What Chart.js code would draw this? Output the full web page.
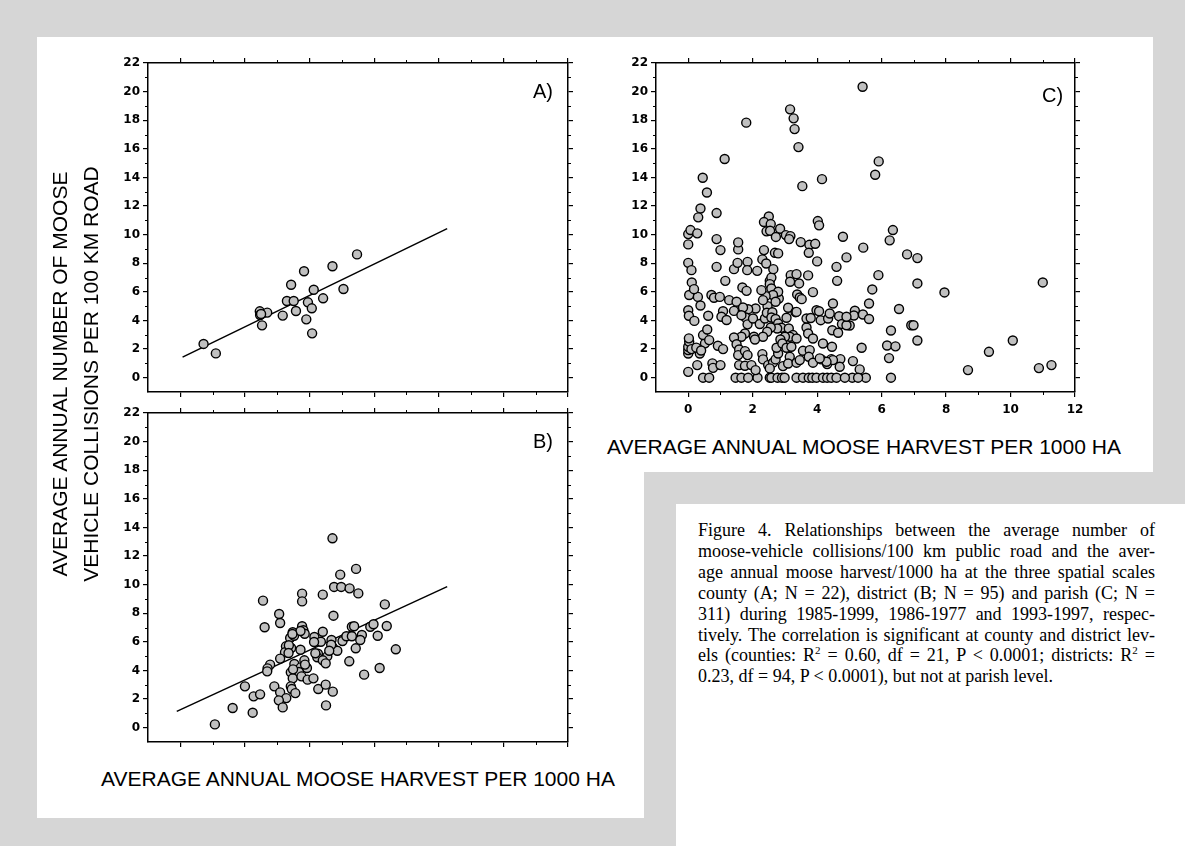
<!DOCTYPE html>
<html>
<head>
<meta charset="utf-8">
<script src="https://cdn.jsdelivr.net/npm/chart.js@4.4.0/dist/chart.umd.min.js"></script>
<style>
  html, body { margin: 0; padding: 0; }
  body { width: 1185px; height: 846px; background: #d6d6d6; position: relative; overflow: hidden;
         font-family: "Liberation Sans", Arial, sans-serif; color: #000; }
  .w { position: absolute; background: #fff; }
  canvas { position: absolute; }
  .t { position: absolute; font-size: 21px; white-space: nowrap; }
  .lab { position: absolute; font-size: 20px; }
  #ytitle { position: absolute; width: 700px; left: -275px; top: 343px; height: 62px;
            line-height: 31px; text-align: center; font-size: 21px; transform: rotate(-90deg); white-space: nowrap; }
  #cap { position: absolute; left: 698px; top: 520px; width: 457px;
         font-family: "Liberation Serif", "Times New Roman", serif; font-size: 18px; line-height: 20.9px; }
  #cap div { text-align: justify; text-align-last: justify; white-space: nowrap; }
  #cap div.last { text-align-last: left; }
  #cap sup { font-size: 11px; line-height: 0; }
</style>
</head>
<body>
<div class="w" style="left:37px;top:37px;width:1116px;height:435px"></div>
<div class="w" style="left:37px;top:37px;width:607px;height:781px"></div>
<div class="w" style="left:676px;top:504px;width:509px;height:342px"></div>

<canvas id="chartA" width="500" height="360" style="left:90px;top:45px"></canvas>
<canvas id="chartB" width="500" height="365" style="left:90px;top:395px"></canvas>
<canvas id="chartC" width="500" height="385" style="left:600px;top:45px"></canvas>

<div id="ytitle">AVERAGE ANNUAL NUMBER OF MOOSE<br>VEHICLE COLLISIONS PER 100 KM ROAD</div>
<div class="t" style="left:101px;top:767px">AVERAGE ANNUAL MOOSE HARVEST PER 1000 HA</div>
<div class="t" style="left:607px;top:435px">AVERAGE ANNUAL MOOSE HARVEST PER 1000 HA</div>
<div class="lab" style="left:533px;top:80px">A)</div>
<div class="lab" style="left:533px;top:430px">B)</div>
<div class="lab" style="left:1042px;top:84px">C)</div>

<div id="cap">
  <div>Figure 4. Relationships between the average number of</div>
  <div>moose-vehicle collisions/100 km public road and the aver-</div>
  <div>age annual moose harvest/1000 ha at the three spatial scales</div>
  <div>county (A; N = 22), district (B; N = 95) and parish (C; N =</div>
  <div>311) during 1985-1999, 1986-1977 and 1993-1997, respec-</div>
  <div>tively. The correlation is significant at county and district lev-</div>
  <div>els (counties: R<sup>2</sup> = 0.60, df = 21, P &lt; 0.0001; districts: R<sup>2</sup> =</div>
  <div class="last">0.23, df = 94, P &lt; 0.0001), but not at parish level.</div>
</div>

<script>
// axis ranges and tick labels
const xMin = -1, xMax = 12, xStep = 2;
const yMin = -1, yMax = 22, yStep = 2;

// A) county level (N = 22)
const aX = [0.72, 1.10, 2.46, 2.47, 2.69, 2.53, 3.17, 3.30, 3.43, 3.51, 3.58,
            3.83, 3.90, 3.95, 4.07, 4.08, 4.13, 4.42, 4.71, 5.05, 5.47, 2.50];
const aY = [2.36, 1.70, 4.64, 4.38, 4.55, 3.66, 4.34, 5.36, 6.50, 5.36, 4.66,
            7.44, 4.08, 5.27, 4.85, 3.10, 6.15, 5.55, 7.79, 6.20, 8.62, 4.45];
const aLineX = [0.07, 8.26];
const aLineY = [1.44, 10.42];

// B) district level (N = 95)
const bX = [4.71, 5.44, 4.95, 4.76, 4.98, 5.24, 5.51, 4.41, 3.77, 3.77, 2.56, 6.33, 3.06, 3.09, 2.61,
            4.74, 3.77, 3.81, 3.85, 3.48, 3.40, 3.52, 4.15, 4.41, 4.35, 4.14, 4.68, 5.02, 5.14, 5.31,
            5.38, 5.31, 5.62, 5.57, 5.43, 5.88, 5.98, 6.39, 6.11, 6.67, 3.27, 3.43, 3.24, 3.72, 3.09,
            4.72, 4.86, 4.26, 4.24, 4.55, 4.41, 4.50, 5.23, 3.84, 3.53, 2.78, 2.70, 2.69, 3.73, 3.92,
            3.67, 3.42, 3.48, 3.75, 3.94, 4.12, 5.69, 6.17, 2.91, 3.42, 3.45, 4.27, 4.50, 4.72, 3.56,
            3.09, 3.28, 3.05, 3.17, 4.51, 2.00, 2.27, 2.47, 1.62, 2.24, 1.07, 4.18, 4.67, 3.72, 3.47,
            3.36, 3.86, 3.49, 4.61, 3.35];
const bY = [13.24, 11.10, 10.70, 9.84, 9.84, 9.74, 9.39, 9.30, 9.37, 8.83, 8.88, 8.62, 7.95, 7.32, 7.02,
            7.83, 7.09, 6.81, 6.57, 6.67, 6.27, 6.43, 6.34, 6.71, 6.01, 5.99, 6.13, 6.06, 6.39, 7.06,
            7.09, 6.39, 6.48, 6.13, 5.55, 7.06, 7.23, 7.11, 6.43, 5.48, 5.69, 5.57, 5.27, 5.45, 4.83,
            5.62, 5.38, 5.17, 4.92, 4.99, 4.71, 4.50, 4.64, 4.71, 4.45, 4.41, 4.15, 3.94, 4.22, 4.17,
            3.89, 3.87, 3.45, 3.59, 3.36, 3.45, 3.71, 4.17, 2.89, 2.89, 2.70, 2.70, 3.01, 2.52, 2.42,
            2.47, 2.07, 1.91, 1.42, 1.56, 2.89, 2.19, 2.33, 1.38, 1.05, 0.23, 5.20, 5.80, 6.76, 6.55,
            5.76, 4.41, 4.08, 5.38, 5.22];
const bLineX = [-0.11, 8.26];
const bLineY = [1.14, 9.86];

// C) parish level (N = 311)
const cX = [5.41, 3.16, 3.27, 3.30, 3.42, 1.80, 1.13, 0.45, 0.58, 3.54, 4.15, 5.80, 5.91, 0.38, 0.31, 0.88,
            2.50, 2.35, 2.56, 2.43, 2.54, 2.85, 4.02, 4.06, 0.00, 0.07, 0.28, 3.03, 3.17, 4.80, 6.35, 6.25,
            5.43, 6.79, 7.11, 5.90, 7.11, 7.95, 11.00, 5.71, 5.61, 6.54, 5.17, 5.14, 5.42, 5.61, 5.01, 6.92,
            6.99, 6.29, 7.11, 10.07, 6.17, 6.43, 5.38, 6.23, 9.33, 5.11, 5.32, 8.68, 10.88, 11.27, 5.09, 5.51,
            6.29,
            0.46, 0.65, 1.47, 1.65, 1.86, 2.15, 2.53, 2.58, 2.77, 2.91, 2.99, 3.36, 3.56, 3.74, 3.85, 3.98,
            4.18, 4.31, 4.44, 4.60, 4.86, 5.27,
            0.00, 0.28, 0.75, 0.77, 1.00, 0.00, 0.00, 0.00, 0.03, 0.02, 0.36, 0.52, 0.46, 0.59, 0.65, 0.92,
            1.08, 0.00, 0.02, 0.19, 0.62, 0.03, 0.30, 0.38, 0.11, 0.18, 0.00, 0.10, 0.00, 0.88, 1.00, 0.88,
            1.15, 0.72, 0.80, 0.98, 1.27, 1.08, 1.03, 1.19, 1.42, 1.50, 1.42, 1.53, 1.55, 1.55, 1.68, 1.81,
            1.84, 1.83, 2.14, 2.30, 2.35, 2.42, 2.53, 2.58, 2.64, 2.69, 2.79, 2.53, 2.58, 2.72, 3.13, 3.49,
            3.76, 3.94, 3.74, 4.00, 4.91, 4.60, 4.62, 3.72, 3.18, 3.36, 3.16, 3.44, 3.87, 3.38, 3.46, 3.52,
            2.81, 2.79, 2.63, 2.40, 2.27, 2.71, 3.10, 3.33, 2.46, 2.32, 2.09, 1.86, 1.70, 1.78, 1.65, 1.84,
            2.01, 2.22, 2.38, 2.44, 2.61, 2.58, 2.71, 2.79, 2.89, 3.05, 3.12, 3.25, 3.15, 3.36, 3.00, 2.86,
            2.76, 2.56, 2.45, 2.32, 2.04, 2.07, 1.76, 1.65, 1.42, 1.50, 1.58, 1.55, 1.76, 1.84, 1.58, 1.76,
            1.96, 2.09, 2.30, 2.32, 2.48, 2.63, 2.53, 2.71, 2.79, 2.94, 2.74, 2.92, 3.05, 3.20, 3.15, 3.10,
            3.36, 3.46, 3.56, 3.77, 3.74, 3.87, 4.18, 4.13, 4.31, 4.46, 4.47, 4.44, 4.72, 4.70, 3.36, 3.67,
            3.67, 3.80, 3.72, 3.87, 3.98, 4.06, 4.11, 4.34, 4.39, 4.49, 4.68, 4.77, 4.91, 4.65, 0.10, 0.25,
            0.40, 4.49, 4.29, 4.08, 4.91];
const cY = [20.34, 18.76, 18.13, 17.38, 16.12, 17.83, 15.29, 13.98, 12.95, 13.39, 13.88, 14.19, 15.12, 11.83, 11.21, 11.51,
            11.27, 10.88, 10.74, 10.23, 10.27, 10.41, 10.95, 10.65, 10.04, 10.32, 10.09, 9.97, 9.90, 9.85, 10.32, 9.60,
            9.09, 8.62, 8.36, 7.17, 6.59, 5.96, 6.66, 6.17, 5.19, 4.80, 4.68, 4.35, 4.42, 4.10, 3.65, 3.67,
            3.67, 3.30, 2.60, 2.60, 2.25, 2.19, 2.09, 1.37, 1.81, 1.16, 0.58, 0.53, 0.67, 0.88, 0.00, 0.00,
            0.00,
            0.00, 0.00, 0.00, 0.00, 0.00, 0.00, 0.00, 0.00, 0.00, 0.00, 0.00, 0.00, 0.00, 0.00, 0.00, 0.00,
            0.00, 0.00, 0.00, 0.00, 0.00, 0.00,
            0.41, 0.88, 1.00, 0.69, 0.88, 1.69, 1.93, 2.16, 2.51, 2.75, 1.69, 2.40, 2.98, 3.37, 2.63, 2.23,
            2.00, 4.72, 4.33, 3.97, 4.33, 5.78, 5.65, 5.05, 6.66, 6.19, 8.03, 7.52, 9.32, 9.69, 8.92, 7.75,
            6.77, 5.78, 5.59, 5.65, 5.42, 4.65, 4.26, 4.03, 4.67, 5.31, 7.59, 8.03, 8.97, 9.46, 6.31, 6.07,
            8.10, 7.52, 7.47, 8.27, 8.92, 7.98, 6.77, 7.00, 7.59, 8.73, 8.69, 6.54, 6.24, 9.84, 9.69, 9.48,
            9.29, 9.36, 8.73, 8.13, 8.41, 7.75, 6.77, 7.15, 7.17, 7.24, 6.71, 6.59, 5.98, 5.82, 5.61, 5.49,
            5.54, 6.01, 5.78, 5.70, 6.12, 5.31, 4.89, 4.58, 5.00, 5.42, 4.84, 4.79, 4.91, 4.21, 4.37, 3.73,
            4.14, 3.75, 4.14, 4.54, 4.58, 4.21, 4.10, 3.79, 3.49, 4.19, 3.44, 2.98, 2.86, 2.74, 2.86, 2.67,
            3.44, 3.51, 3.21, 2.86, 2.86, 2.67, 3.09, 2.86, 2.81, 2.34, 1.97, 1.58, 1.86, 1.58, 0.88, 0.83,
            0.88, 0.53, 1.65, 1.28, 0.88, 1.05, 0.65, 1.28, 1.69, 0.81, 2.09, 2.39, 2.09, 2.16, 1.46, 0.99,
            1.05, 1.23, 1.88, 1.93, 1.46, 1.05, 2.39, 1.28, 0.95, 2.16, 3.32, 1.30, 1.30, 0.76, 4.60, 3.51,
            4.14, 4.17, 3.09, 2.74, 4.72, 4.65, 4.02, 4.14, 4.49, 5.19, 4.30, 3.75, 3.67, 3.14, 2.00, 2.10,
            1.90, 1.23, 1.11, 1.35, 4.26];

const pts = (xs, ys) => xs.map((x, i) => ({ x: x, y: ys[i] }));

// kleine Zwischenstriche (minor ticks) auf allen vier Achsen
const minorTicks = {
  id: 'minorTicks',
  afterDraw(chart) {
    const ctx = chart.ctx;
    ctx.save();
    ctx.strokeStyle = '#000';
    ctx.lineWidth = 1;
    Object.values(chart.scales).forEach(s => {
      const horiz = s.isHorizontal();
      for (let v = Math.ceil(s.min); v <= s.max; v++) {
        if (v === s.min || v === s.max || v % 2 === 0) continue;
        const p = Math.round(s.getPixelForValue(v)) + 0.5;
        ctx.beginPath();
        if (horiz) {
          const top = s.position === 'top';
          const y0 = top ? s.bottom : s.top;
          ctx.moveTo(p, y0);
          ctx.lineTo(p, y0 + (top ? -3 : 3));
        } else {
          const left = s.position === 'left';
          const x0 = left ? s.right : s.left;
          ctx.moveTo(x0, p);
          ctx.lineTo(x0 + (left ? -3 : 3), p);
        }
        ctx.stroke();
      }
    });
    ctx.restore();
  }
};

function axis(position, min, max, step, showLabels, size) {
  const horiz = position === 'top' || position === 'bottom';
  return {
    type: 'linear',
    position: position,
    min: min,
    max: max,
    border: { display: true, color: '#000', width: 1.5 },
    grid: { drawOnChartArea: false, drawTicks: true, tickLength: 5, color: '#000', lineWidth: 1.2 },
    ticks: {
      display: showLabels,
      stepSize: step,
      includeBounds: false,
      color: '#000',
      padding: horiz ? 6 : 3,
      font: { family: 'DejaVu Sans', size: 12, weight: 'bold' },
      callback: v => String(v)
    },
    afterFit: s => { if (horiz) s.height = size; else s.width = size; }
  };
}

function makePanel(id, xs, ys, lineX, lineY, fit, xLabels) {
  const datasets = [{
    type: 'scatter',
    data: pts(xs, ys),
    pointRadius: 4.5,
    pointBackgroundColor: '#c0c0c0',
    pointBorderColor: '#000',
    pointBorderWidth: 1.4,
    order: 0
  }];
  if (lineX) {
    datasets.push({
      type: 'line',
      data: pts(lineX, lineY),
      borderColor: '#000',
      borderWidth: 1.5,
      pointRadius: 0,
      fill: false,
      order: 1
    });
  }
  return new Chart(document.getElementById(id), {
    type: 'scatter',
    data: { datasets: datasets },
    options: {
      responsive: false,
      animation: false,
      layout: { padding: 0 },
      plugins: { legend: { display: false }, tooltip: { enabled: false } },
      scales: {
        x: axis('bottom', xMin, xMax, xStep, xLabels, fit.bottom),
        x2: axis('top', xMin, xMax, xStep, false, fit.top),
        y: axis('left', yMin, yMax, yStep, true, fit.left),
        y2: axis('right', yMin, yMax, yStep, false, fit.right)
      }
    },
    plugins: [minorTicks]
  });
}

makePanel('chartA', aX, aY, aLineX, aLineY, { left: 58, right: 22, top: 18, bottom: 13 }, false);
makePanel('chartB', bX, bY, bLineX, bLineY, { left: 58, right: 22, top: 18, bottom: 18 }, false);
makePanel('chartC', cX, cY, null, null, { left: 56, right: 25, top: 18, bottom: 38 }, true);
</script>
</body>
</html>
